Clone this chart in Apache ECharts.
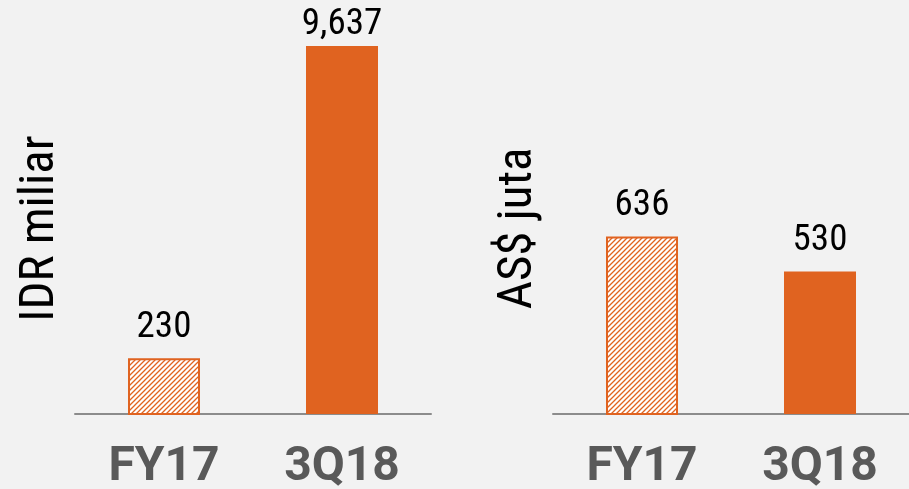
<!DOCTYPE html>
<html>
<head>
<meta charset="utf-8">
<script src="https://cdn.jsdelivr.net/npm/echarts@6/dist/echarts.min.js"></script>
<style>
  html, body {margin: 0; padding: 0; background: #f2f2f2;}
  #main {width: 909px; height: 489px;}
</style>
</head>
<body>
<div id="main"></div>
<script>
// data
const categories = ['FY17', '3Q18'];
const idrValues = [230, 9637];     // IDR miliar
const audValues = [636, 530];      // AS$ juta
const idrName = 'IDR miliar';
const audName = 'AS$ juta';

const orange = '#e06320';
const narrow = '"Roboto Condensed", Roboto, sans-serif';

// hatched fill for FY17
function hatch() {
    const c = document.createElement('canvas');
    c.width = 5;
    c.height = 5;
    const ctx = c.getContext('2d');
    ctx.fillStyle = '#ffffff';
    ctx.fillRect(0, 0, 5, 5);
    ctx.strokeStyle = orange;
    ctx.lineWidth = 1.3;
    ctx.beginPath();
    ctx.moveTo(0, 5); ctx.lineTo(5, 0);
    ctx.moveTo(-1, 1); ctx.lineTo(1, -1);
    ctx.moveTo(4, 6); ctx.lineTo(6, 4);
    ctx.stroke();
    return c;
}
const hatchFill = {image: hatch(), repeat: 'repeat'};

function barData(values) {
    return values.map(function (v, i) {
        if (i === 0) {
            return {value: v, itemStyle: {color: hatchFill, borderColor: orange, borderWidth: 2}};
        }
        return {value: v, itemStyle: {color: orange}};
    });
}

const leftData = barData(idrValues);
leftData[1].label = {distance: 3}; // label squeezed at top

function xAxis(gridIndex) {
    return {
        type: 'category',
        gridIndex: gridIndex,
        data: categories,
        axisLine: {lineStyle: {color: '#8c8c8c', width: 2}},
        axisTick: {show: false},
        axisLabel: {
            margin: 30,
            color: '#595959',
            fontFamily: 'Roboto, sans-serif',
            fontWeight: 'bold',
            fontSize: 48
        }
    };
}

function yAxis(gridIndex, name, extra) {
    return Object.assign({
        gridIndex: gridIndex,
        name: name,
        nameLocation: 'middle',
        nameRotate: 90,
        nameGap: 10,
        nameTextStyle: {color: '#000', fontFamily: narrow, fontSize: 49},
        axisLine: {show: false},
        axisTick: {show: false},
        axisLabel: {show: false},
        splitLine: {show: false}
    }, extra);
}

const labelStyle = {
    show: true,
    position: 'top',
    distance: 12,
    color: '#000',
    fontFamily: narrow,
    fontSize: 37,
    formatter: function (p) {
        return p.value.toLocaleString('en-US');
    }
};

const chart = echarts.init(document.getElementById('main'));
chart.setOption({
    backgroundColor: '#f2f2f2',
    animation: false,
    grid: [
        {left: 75, width: 356, top: 43, height: 371, outerBoundsMode: 'none'},
        {left: 553, width: 356, top: 43, height: 371, outerBoundsMode: 'none'}
    ],
    xAxis: [xAxis(0), xAxis(1)],
    // left panel is not to scale in the source, a log axis reproduces it
    yAxis: [
        yAxis(0, idrName, {type: 'log', min: 118, max: 10000}),
        yAxis(1, audName, {type: 'value', min: 100, max: 1220})
    ],
    series: [
        {
            type: 'bar',
            xAxisIndex: 0,
            yAxisIndex: 0,
            barWidth: 72,
            data: leftData,
            label: labelStyle
        },
        {
            type: 'bar',
            xAxisIndex: 1,
            yAxisIndex: 1,
            barWidth: 72,
            data: barData(audValues),
            label: labelStyle
        }
    ]
});
</script>
</body>
</html>
